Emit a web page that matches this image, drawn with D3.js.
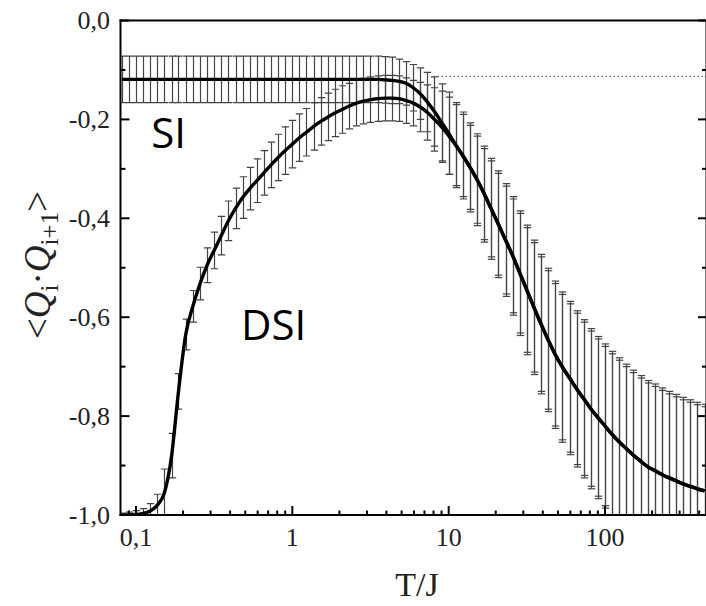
<!DOCTYPE html>
<html><head><meta charset="utf-8">
<script src="https://cdn.jsdelivr.net/npm/d3@7"></script>
<style>body{margin:0;background:#fff}</style>
</head><body><svg id="c" width="706" height="606"></svg>
<script>
// ---- data ----
const T = [0.0811,0.0901,0.1,0.111,0.123,0.137,0.152,0.169,0.187,0.208,
0.231,0.257,0.285,0.316,0.351,0.390,0.433,0.481,0.534,0.593,
0.658,0.731,0.811,0.901,1,1.11,1.23,1.37,1.52,1.69,
1.87,2.08,2.31,2.57,2.85,3.16,3.51,3.90,4.33,4.81,
5.34,5.93,6.58,7.31,8.11,9.01,10,11.1,12.3,13.7,
15.2,16.9,18.7,20.8,23.1,25.7,28.5,31.6,35.1,39.0,
43.3,48.1,53.4,59.3,65.8,73.1,81.1,90.1,100,111,
123,137,152,169,187,208,231,257,285,316,
351,390,433];
const siMean = [-0.119,-0.119,-0.119,-0.119,-0.119,-0.119,-0.119,-0.119,-0.119,-0.119,
-0.119,-0.119,-0.119,-0.119,-0.119,-0.119,-0.119,-0.119,-0.119,-0.119,
-0.119,-0.119,-0.119,-0.119,-0.119,-0.119,-0.119,-0.119,-0.119,-0.119,
-0.119,-0.119,-0.119,-0.119,-0.119,-0.119,-0.119,-0.120,-0.121,-0.123,
-0.127,-0.136,-0.148,-0.165,-0.184,-0.206,-0.228,-0.252,-0.273,-0.297,
-0.322,-0.351,-0.381,-0.412,-0.444,-0.476,-0.511,-0.545,-0.580,-0.614,
-0.646,-0.676,-0.701,-0.723,-0.745,-0.765,-0.785,-0.803,-0.820,-0.837,
-0.852,-0.866,-0.879,-0.891,-0.902,-0.910,-0.918,-0.925,-0.931,-0.937,
-0.942,-0.947,-0.951];
const siErr = [0.047,0.047,0.047,0.047,0.047,0.047,0.047,0.047,0.047,0.047,
0.047,0.047,0.047,0.047,0.047,0.047,0.047,0.047,0.047,0.047,
0.047,0.047,0.047,0.047,0.047,0.047,0.047,0.047,0.047,0.047,
0.047,0.047,0.047,0.047,0.047,0.047,0.047,0.047,0.047,0.045,
0.044,0.047,0.052,0.060,0.070,0.078,0.083,0.086,0.088,0.090,
0.093,0.097,0.102,0.108,0.114,0.120,0.126,0.131,0.136,0.141,
0.145,0.149,0.152,0.155,0.158,0.160,0.162,0.164,0.166,0.168,
0.170,0.171,0.172,0.173,0.174,0.175,0.175,0.175,0.175,0.175,
0.175,0.175,0.175];
const dsiMean = [-1.000,-1.000,-0.999,-0.997,-0.992,-0.980,-0.955,-0.880,-0.750,-0.635,
-0.578,-0.532,-0.495,-0.465,-0.435,-0.405,-0.380,-0.358,-0.340,-0.324,
-0.308,-0.292,-0.277,-0.263,-0.250,-0.237,-0.226,-0.214,-0.204,-0.195,
-0.187,-0.180,-0.173,-0.167,-0.163,-0.160,-0.158,-0.157,-0.157,-0.158,
-0.162,-0.167,-0.175,-0.186,-0.200,-0.215,-0.233,-0.252,-0.273,-0.297,
-0.322,-0.351,-0.381,-0.412,-0.444,-0.476,-0.511,-0.545,-0.580,-0.614,
-0.646,-0.676,-0.701,-0.723,-0.745,-0.765,-0.785,-0.803,-0.820,-0.837,
-0.852,-0.866,-0.879,-0.891,-0.902,-0.910,-0.918,-0.925,-0.931,-0.937,
-0.942,-0.947,-0.951];
const dsiErr = [0.004,0.006,0.008,0.010,0.015,0.022,0.048,0.045,0.036,0.031,
0.032,0.033,0.035,0.037,0.039,0.040,0.041,0.042,0.043,0.044,
0.045,0.046,0.047,0.048,0.048,0.048,0.048,0.048,0.048,0.048,
0.048,0.048,0.046,0.046,0.046,0.046,0.046,0.046,0.046,0.046,
0.046,0.046,0.050,0.056,0.064,0.072,0.078,0.082,0.083,0.085,
0.088,0.092,0.097,0.103,0.109,0.115,0.121,0.126,0.131,0.136,
0.140,0.144,0.147,0.150,0.153,0.155,0.157,0.159,0.161,0.163,
0.165,0.166,0.167,0.168,0.169,0.170,0.170,0.170,0.170,0.170,
0.170,0.170,0.170];
const refT = [8, 449];
const refVal = [-0.113, -0.113];
const xTickVals = [0.1, 1, 10, 100];
const xTickLabels = ["0,1", "1", "10", "100"];
const yTickVals = [0, -0.2, -0.4, -0.6, -0.8, -1.0];
const yTickLabels = ["0,0", "-0,2", "-0,4", "-0,6", "-0,8", "-1,0"];
const yMinorVals = [-0.1, -0.3, -0.5, -0.7, -0.9];
const seriesLabels = [{text: "SI", T: 0.125, v: -0.258}, {text: "DSI", T: 0.47, v: -0.646}];

// ---- drawing ----
const L = 120.5, R = 707, Tp = 20.5, B = 515;
const svg = d3.select("#c");
svg.append("rect").attr("width", 706).attr("height", 606).attr("fill", "#fff");
const x = d3.scaleLog().domain([0.0796, 449]).range([L, R]);
const y = d3.scaleLinear().domain([-1, 0]).range([B, Tp]);

svg.append("clipPath").attr("id", "clip").append("rect")
  .attr("x", L).attr("y", Tp).attr("width", R - L).attr("height", B - Tp);
const plot = svg.append("g").attr("clip-path", "url(#clip)");

function pts(mean, err) { return T.map((t, i) => ({t, m: mean[i], e: err[i]})); }
const si = pts(siMean, siErr), dsi = pts(dsiMean, dsiErr);

function errorBars(data) {
  const g = plot.append("g").attr("stroke", "#444").attr("stroke-width", 1.2).attr("fill", "none");
  const cw = 3.7;
  data.forEach(d => {
    const cx = Math.round(x(d.t)) + 0.5;
    const y1 = y(d.m + d.e), y2 = y(d.m - d.e);
    g.append("line").attr("x1", cx).attr("x2", cx).attr("y1", y1).attr("y2", y2);
    g.append("line").attr("x1", cx - cw).attr("x2", cx + cw).attr("y1", y1).attr("y2", y1);
    g.append("line").attr("x1", cx - cw).attr("x2", cx + cw).attr("y1", y2).attr("y2", y2);
  });
}
errorBars(si);
errorBars(dsi);

plot.append("line").attr("x1", x(refT[0])).attr("x2", x(refT[1]))
  .attr("y1", y(refVal[0])).attr("y2", y(refVal[1]))
  .attr("stroke", "#666").attr("stroke-width", 1.3).attr("stroke-dasharray", "1.5,2.5");

const line = d3.line().x(d => x(d.t)).y(d => y(d.m)).curve(d3.curveMonotoneX);
plot.append("path").datum(si).attr("d", line).attr("fill", "none").attr("stroke", "#000").attr("stroke-width", 3.4);
plot.append("path").datum(dsi).attr("d", line).attr("fill", "none").attr("stroke", "#000").attr("stroke-width", 3.4);

// frame
const ax = svg.append("g").attr("stroke", "#000").attr("stroke-width", 2).attr("fill", "none");
ax.append("line").attr("x1", L).attr("x2", L).attr("y1", Tp - 1).attr("y2", B + 1);
ax.append("line").attr("x1", L - 1).attr("x2", 706).attr("y1", B).attr("y2", B);
ax.append("line").attr("x1", L - 1).attr("x2", 706).attr("y1", Tp).attr("y2", Tp);
ax.append("line").attr("x1", R - 0.5).attr("x2", R - 0.5).attr("y1", Tp).attr("y2", B);

// x ticks (inward)
const xMinor = [0.09];
[0.1, 1, 10, 100].forEach(dec => { for (let k = 2; k <= 9; k++) { const v = dec * k; if (v < 449) xMinor.push(v); } });
xTickVals.forEach(v => ax.append("line").attr("x1", x(v)).attr("x2", x(v)).attr("y1", B).attr("y2", B - 9));
xMinor.forEach(v => ax.append("line").attr("x1", x(v)).attr("x2", x(v)).attr("y1", B).attr("y2", B - 4.5));
// y ticks (inward, both sides)
yTickVals.forEach(v => {
  ax.append("line").attr("x1", L).attr("x2", L + 9).attr("y1", y(v)).attr("y2", y(v));
  ax.append("line").attr("x1", R).attr("x2", R - 9).attr("y1", y(v)).attr("y2", y(v));
});
yMinorVals.forEach(v => {
  ax.append("line").attr("x1", L).attr("x2", L + 5).attr("y1", y(v)).attr("y2", y(v));
  ax.append("line").attr("x1", R).attr("x2", R - 5).attr("y1", y(v)).attr("y2", y(v));
});

const serif = "'Liberation Serif', 'Times New Roman', serif";
svg.append("g").selectAll("text").data(yTickVals).join("text")
  .attr("x", 110).attr("y", d => y(d)).attr("dy", "0.33em")
  .attr("text-anchor", "end").attr("font-family", serif).attr("font-size", 26)
  .attr("fill", "#222").text((d, i) => yTickLabels[i]);
svg.append("g").selectAll("text").data(xTickVals).join("text")
  .attr("x", d => x(d)).attr("y", 546)
  .attr("text-anchor", "middle").attr("font-family", serif).attr("font-size", 26)
  .attr("fill", "#222").text((d, i) => xTickLabels[i]);

svg.append("text").attr("x", 417).attr("y", 596).attr("text-anchor", "middle")
  .attr("font-family", serif).attr("font-size", 34).attr("fill", "#222").text("T/J");

const yt = svg.append("text").attr("transform", "translate(50,265) rotate(-90)")
  .attr("text-anchor", "middle").attr("font-family", serif).attr("font-size", 37).attr("fill", "#222");
yt.append("tspan").text("<");
yt.append("tspan").attr("font-style", "italic").text("Q");
yt.append("tspan").attr("font-size", 25).attr("dy", 8).text("i");
yt.append("tspan").attr("dy", -8).text("·");
yt.append("tspan").attr("font-style", "italic").text("Q");
yt.append("tspan").attr("font-size", 25).attr("dy", 8).text("i+1");
yt.append("tspan").attr("dy", -8).text(">");

svg.append("g").selectAll("text").data(seriesLabels).join("text")
  .attr("x", d => x(d.T)).attr("y", d => y(d.v))
  .attr("font-family", "'Open Sans', 'Noto Sans', sans-serif").attr("font-size", 42)
  .attr("fill", "#000").text(d => d.text);
</script></body></html>
